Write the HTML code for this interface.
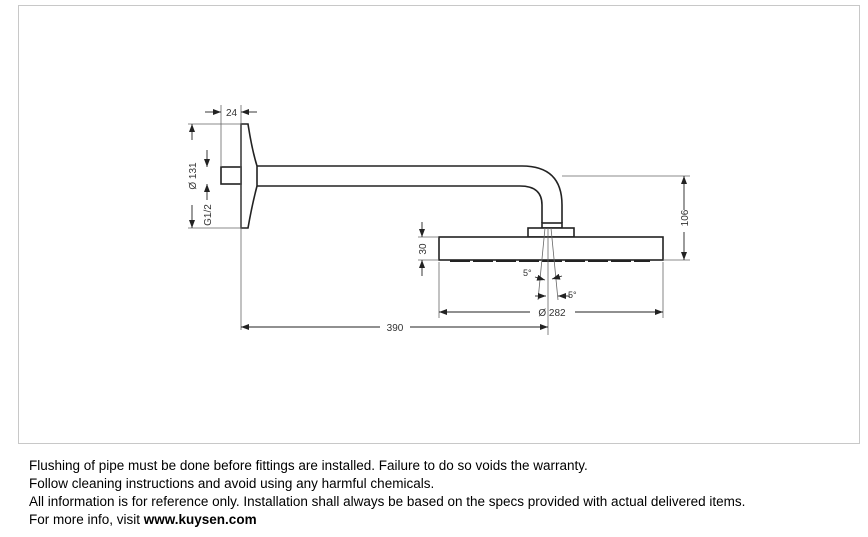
<!DOCTYPE html>
<html><head><style>
body{margin:0;width:868px;height:537px;background:#fff;position:relative;overflow:hidden;font-family:"Liberation Sans",sans-serif}
.box{position:absolute;left:18px;top:5px;width:840px;height:437px;border:1px solid #c8c8c8}
.t{position:absolute;left:29px;font-size:13.5px;color:#000;white-space:nowrap}
</style></head><body>
<div class="box"></div>
<svg width="868" height="537" style="position:absolute;left:0;top:0" font-family="Liberation Sans, sans-serif" font-size="10" fill="#333">
<defs><marker id="a" markerWidth="8" markerHeight="6" refX="8" refY="3" orient="auto-start-reverse" markerUnits="userSpaceOnUse"><path d="M0,0 L8,3 L0,6z" fill="#222"/></marker></defs>
<g stroke="#222" stroke-width="1.6" fill="none">
<path d="M241,124 L248,124 Q252,150 257,166 L257,186 Q252,205 248,228 L241,228 Z" fill="#fff"/>
<rect x="221" y="167" width="20" height="17" fill="#fff"/>
<path d="M257,166 L522,166 Q562,166 562,205 L562,223 M257,186 L520,186 Q542,186 542,205 L542,223"/>
<rect x="542" y="223" width="20" height="5"/>
<rect x="528" y="228" width="46" height="9" fill="#fff"/>
<rect x="439" y="237" width="224" height="23" fill="#fff"/>
<path d="M450,261 L650,261" stroke-dasharray="20,3" stroke-width="2"/>
</g>
<g stroke="#666" stroke-width="0.8" fill="none">
<path d="M241,105 V330 M221,105 V167 M188,124 H241 M188,228 H241 M562,176 H690 M663,260 H690 M418,237 H439 M418,260 H439 M439,262 V318 M663,262 V318 M548,228 V335 M551,228 L558,300 M545,228 L538,300"/>
</g>
<g stroke="#222" stroke-width="0.9" fill="none">
<path d="M205,112 H221" marker-end="url(#a)"/><path d="M257,112 H241" marker-end="url(#a)"/>
<path d="M192,140 V124" marker-end="url(#a)"/><path d="M192,205 V228" marker-end="url(#a)"/>
<path d="M207,150 V167" marker-end="url(#a)"/><path d="M207,200 V184" marker-end="url(#a)"/>
<path d="M684,210 V176" marker-end="url(#a)"/><path d="M684,232 V260" marker-end="url(#a)"/>
<path d="M422,222 V237" marker-end="url(#a)"/><path d="M422,276 V260" marker-end="url(#a)"/>
<path d="M530,312 H439" marker-end="url(#a)"/><path d="M575,312 H663" marker-end="url(#a)"/>
<path d="M380,327 H241" marker-end="url(#a)"/><path d="M410,327 H548" marker-end="url(#a)"/>
<path d="M535,277 L545,280" marker-end="url(#a)"/><path d="M562,276 L552,279" marker-end="url(#a)"/>
<path d="M535,296 L546,296" marker-end="url(#a)"/><path d="M570,296 L558,296" marker-end="url(#a)"/>
</g>
<text x="226" y="116">24</text>
<text transform="translate(196,176) rotate(-90)" text-anchor="middle">Ø 131</text>
<text transform="translate(211,215) rotate(-90)" text-anchor="middle">G1/2</text>
<text transform="translate(426,249) rotate(-90)" text-anchor="middle">30</text>
<text transform="translate(688,218) rotate(-90)" text-anchor="middle">106</text>
<text x="552" y="316" text-anchor="middle">Ø 282</text>
<text x="395" y="331" text-anchor="middle">390</text>
<text x="523" y="276" font-size="9">5°</text>
<text x="568" y="298" font-size="9">5°</text>
</svg>
<div class="t" style="top:458px">Flushing of pipe must be done before fittings are installed. Failure to do so voids the warranty.</div>
<div class="t" style="top:476px">Follow cleaning instructions and avoid using any harmful chemicals.</div>
<div class="t" style="top:494px">All information is for reference only. Installation shall always be based on the specs provided with actual delivered items.</div>
<div class="t" style="top:512px">For more info, visit <b>www.kuysen.com</b></div>
</body></html>
